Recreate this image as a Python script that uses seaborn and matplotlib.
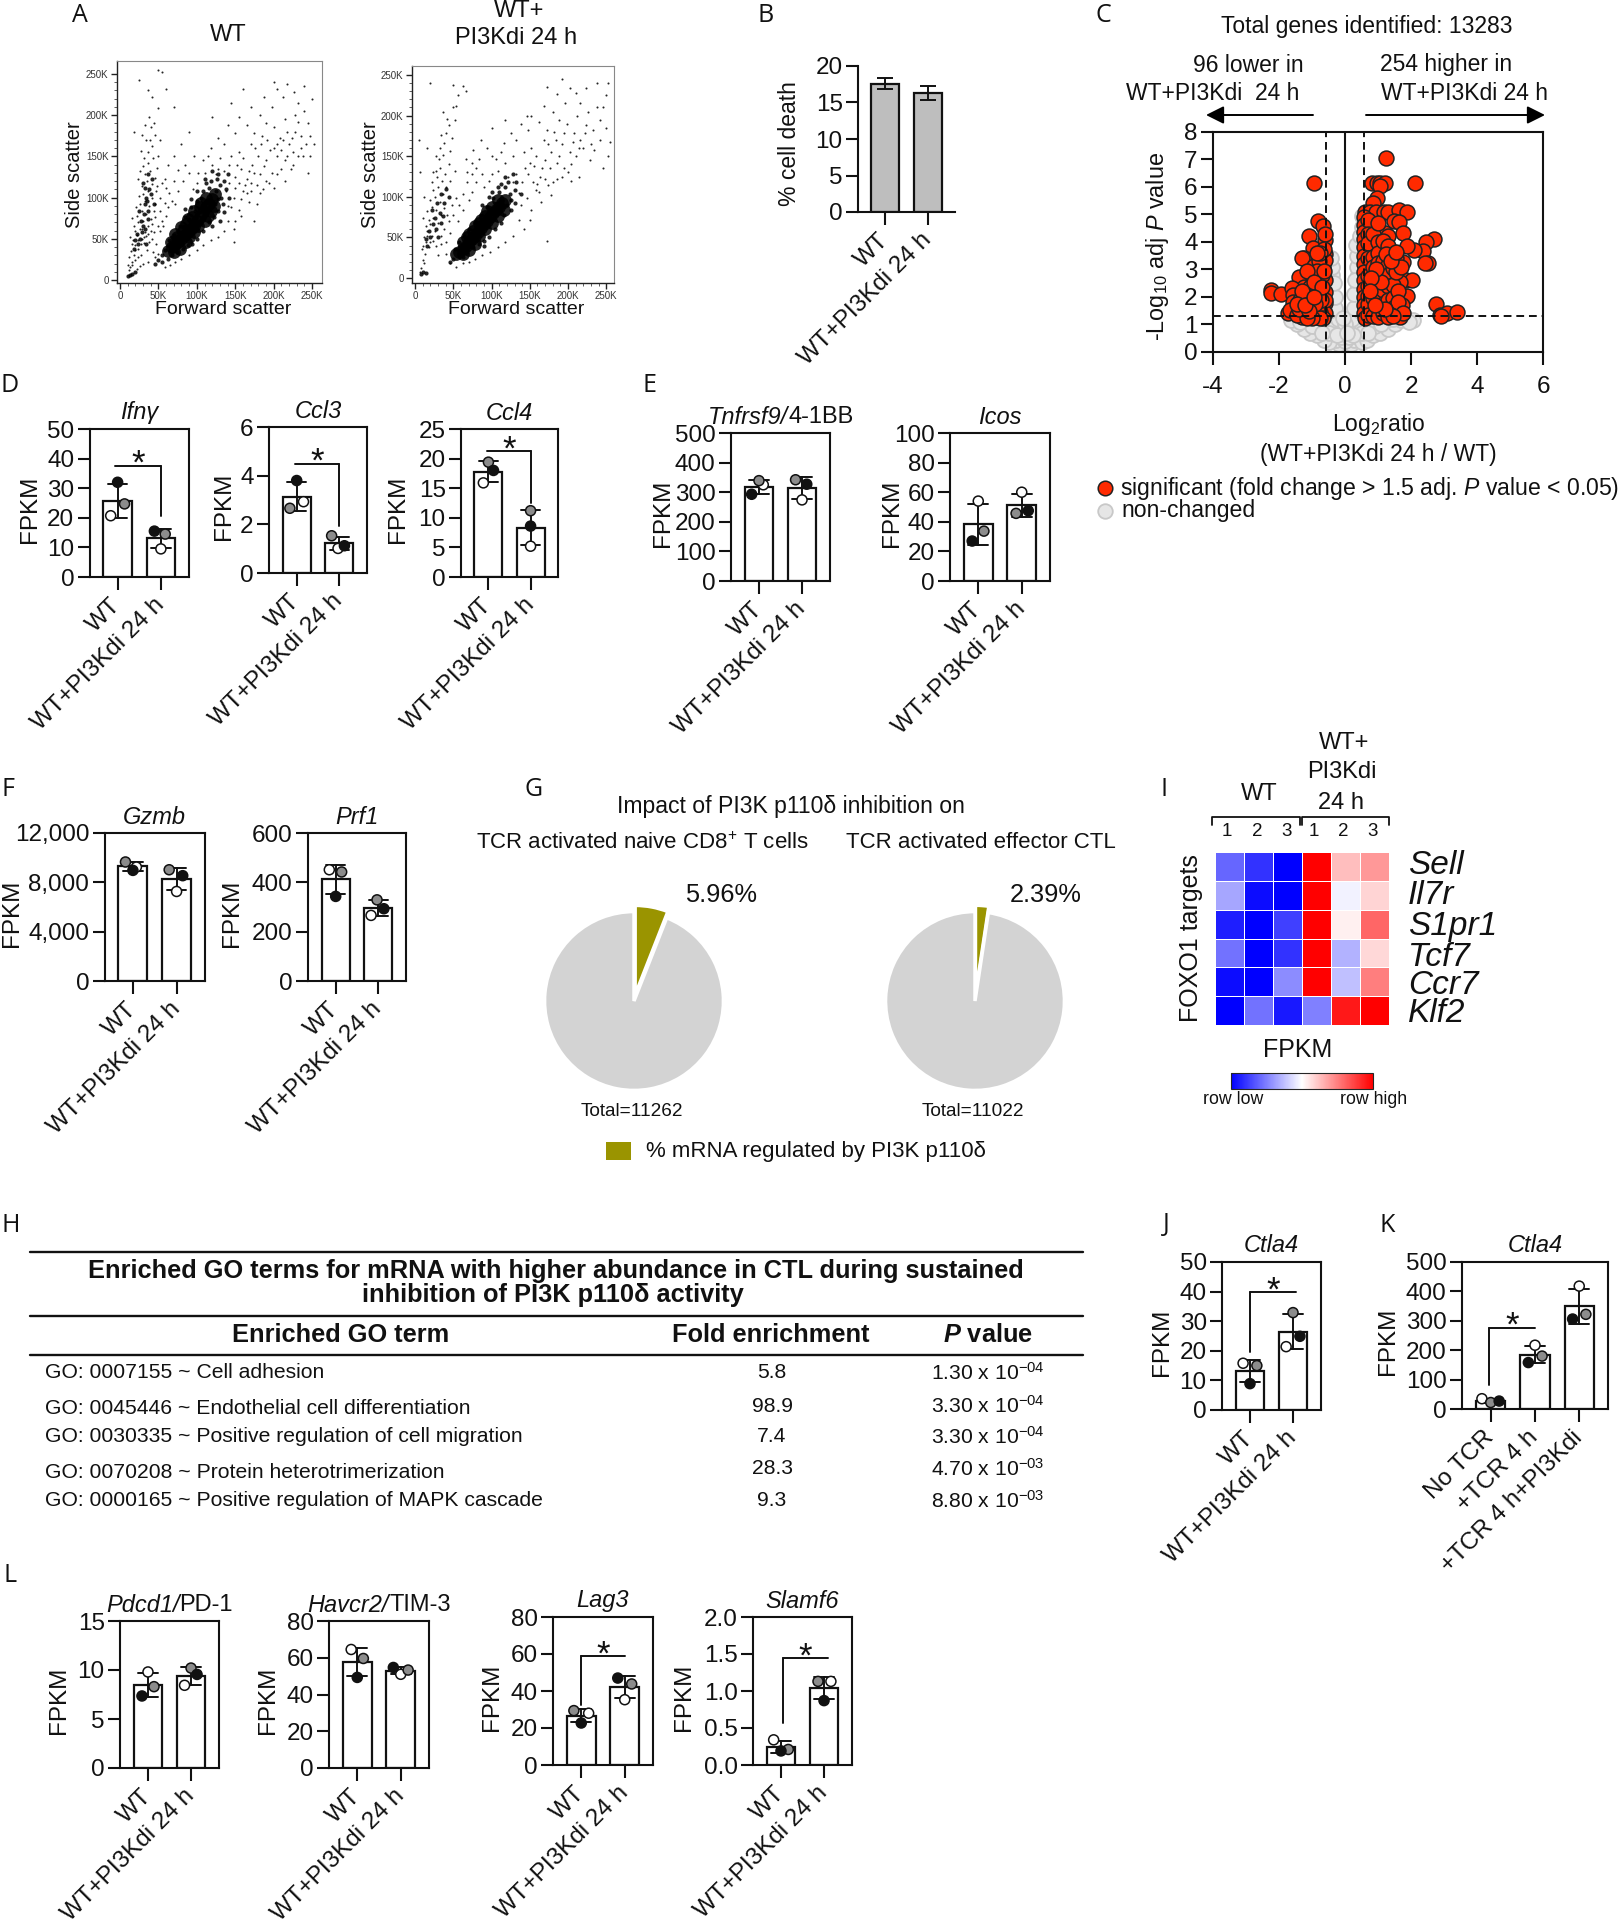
import pandas as pd
import matplotlib
matplotlib.use('Agg')
import matplotlib.pyplot as plt
import seaborn as sns
from matplotlib.cm import ScalarMappable
from matplotlib.colors import Normalize

#--------------------------------------------------------------
# Values. Replicates are [white, grey, black]
#--------------------------------------------------------------
wt_groups = ['WT', 'WT+PI3Kdi 24 h']
tcr_groups = ['No TCR', '+TCR 4 h', '+TCR 4 h+PI3Kdi']

ifng = [[20.7, 24.7, 32.0], [9.5, 14.5, 15.5]]
ccl3 = [[2.93, 2.66, 3.80], [1.01, 1.53, 1.12]]
ccl4 = [[15.9, 19.4, 18.0], [5.2, 11.2, 8.6]]
tnfrsf9 = [[325, 339, 293], [274, 342, 327]]
icos = [[54, 33.7, 27], [60, 45.7, 47.5]]
gzmb = [[9240, 9650, 8970], [7260, 9020, 8540]]
prf1 = [[451, 442, 343], [266, 329, 293]]
ctla4_j = [[15.8, 15, 8.9], [21.4, 32.9, 24.9]]
ctla4_k = [[35, 22, 27], [217, 180, 158], [418, 322, 306]]
pdcd1 = [[9.8, 8.3, 7.35], [8.44, 10.2, 9.55]]
havcr2 = [[64.5, 59.6, 49.3], [51, 53.3, 54.7]]
lag3 = [[28, 29.4, 22.7], [35.3, 43.8, 47]]
slamf6 = [[0.34, 0.21, 0.19], [1.13, 1.13, 0.87]]

cell_death_mean = [17.6, 16.3]
cell_death_sd = [0.7, 1.0]

pie_shares = [5.96, 2.39]

heat_genes = ['Sell', 'Il7r', 'S1pr1', 'Tcf7', 'Ccr7', 'Klf2']
heat_values = [
    [-.60, -.80, -1.0, 1.0, .25, .40],
    [-.35, -.95, -1.0, 1.0, -.05, .17],
    [-.88, -1.0, -.75, 1.0, .06, .60],
    [-.55, -1.0, -.80, 1.0, -.30, .15],
    [-.95, -1.0, -.45, 1.0, -.25, .50],
    [-1.0, -.55, -.90, -.50, .90, 1.0],
]

go_terms = ['GO: 0007155 ~ Cell adhesion',
            'GO: 0045446 ~ Endothelial cell differentiation',
            'GO: 0030335 ~ Positive regulation of cell migration',
            'GO: 0070208 ~ Protein heterotrimerization',
            'GO: 0000165 ~ Positive regulation of MAPK cascade']
go_fold = ['5.8', '98.9', '7.4', '28.3', '9.3']
go_p = ['1.30 x 10$^{-04}$', '3.30 x 10$^{-04}$', '3.30 x 10$^{-04}$',
        '4.70 x 10$^{-03}$', '8.80 x 10$^{-03}$']

# volcano, (log2 ratio, -log10 adj P)
volcano_red = [
    (-.93, 6.13), (-.83, 4.78), (-.68, 4.58), (-1.09, 4.23), (-.61, 4.07), (-.62, 4.3), (-.98, 3.77),
    (-.61, 3.55), (-1.23, 3.43), (-1.31, 3.4), (-.66, 3.1), (-.93, 3.13), (-.61, 3.35), (-.8, 3.3),
    (-1.38, 2.72), (-1.01, 2.8), (-.78, 2.52), (-.61, 2.62), (-1.24, 2.38), (-2.24, 2.25), (-2.24, 2.13),
    (-1.94, 2.1), (-1.62, 2.32), (-1.57, 2.07), (-1.59, 1.83), (-1.72, 1.41), (-.61, 2.19), (-.71, 1.65),
    (-1.06, 1.77), (-1.36, 1.9), (-1.26, 1.6), (-.96, 1.55), (-.81, 1.77), (-.61, 1.77), (-.61, 1.41),
    (-1.06, 1.28), (-1.31, 1.28), (-.76, 1.47), (-1.51, 1.6), (-1.66, 1.53), (-.91, 2.13), (-1.06, 2.38),
    (-.76, 2.13), (-.61, 1.9), (-1.21, 1.41), (-.91, 1.28), (-1.11, 1.92), (-.86, 1.53), (-1.46, 1.35),
    (-.66, 1.25), (-.76, 1.25), (-1.01, 1.25), (-1.16, 1.25), (-.7, 2.8), (-.85, 2.95), (-.63, 2.95),
    (-1.15, 2.95), (-1.25, 2.1), (-.95, 2.55), (-1.4, 1.55), (-.65, 3.75), (-.75, 3.6),
    (1.23, 7.05), (.83, 6.13), (.96, 6.13), (1.06, 6.13), (1.21, 6.13), (2.12, 6.13), (1.06, 6.03),
    (.96, 5.6), (.86, 5.4), (.6, 5.1), (.76, 5.1), (.93, 5.1), (1.18, 5.1), (1.31, 5.1), (1.64, 5.16),
    (1.87, 5.1), (1.49, 4.78), (1.65, 4.74), (.66, 4.56), (.91, 4.56), (1.77, 4.34), (1.21, 4.34),
    (1.31, 4.2), (.66, 4.07), (2.7, 4.11), (2.45, 3.99), (2.37, 3.68), (2.09, 3.71), (1.87, 3.85),
    (2.53, 3.22), (2.42, 3.22), (1.77, 3.28), (1.26, 3.47), (1.36, 3.71), (1.11, 3.65), (.86, 3.83),
    (.66, 3.65), (.71, 3.05), (1.36, 2.68), (.83, 2.68), (1.84, 2.62), (2.02, 2.62), (1.67, 2.55),
    (1.41, 2.25), (1.89, 2.04), (1.06, 1.89), (1.72, 1.71), (.91, 1.47), (1.67, 1.28), (2.75, 1.73),
    (2.88, 1.35), (3.08, 1.43), (3.38, 1.47), (2.9, 1.3), (.58, 4.9), (.58, 4.6), (.58, 4.35), (.58, 4.1),
    (.58, 3.8), (.58, 3.5), (.58, 3.2), (.58, 2.9), (.58, 2.6), (.58, 2.3), (.58, 2.0), (.58, 1.7),
    (.58, 1.4), (.62, 1.25), (.7, 4.8), (.7, 4.3), (.7, 3.95), (.7, 3.4), (.7, 2.75), (.7, 2.4),
    (.7, 2.05), (.7, 1.75), (.7, 1.35), (.85, 4.3), (.85, 3.45), (.85, 3.1), (.85, 2.3), (.85, 1.95),
    (.85, 1.3), (1.0, 4.7), (1.0, 4.0), (1.0, 3.6), (1.0, 3.25), (1.0, 2.85), (1.0, 2.45), (1.0, 2.1),
    (1.0, 1.6), (1.0, 1.28), (1.15, 4.05), (1.15, 3.3), (1.15, 2.95), (1.15, 2.25), (1.15, 1.75),
    (1.15, 1.4), (1.3, 3.85), (1.3, 3.15), (1.3, 2.8), (1.3, 2.4), (1.3, 1.9), (1.3, 1.55), (1.3, 1.28),
    (1.45, 3.55), (1.45, 3.05), (1.45, 2.45), (1.45, 1.95), (1.45, 1.6), (1.55, 3.4), (1.55, 2.9),
    (1.6, 2.2), (1.6, 1.8), (1.7, 3.1), (1.75, 1.4), (1.45, 1.3), (1.2, 1.55), (1.1, 2.55), (.95, 3.0),
    (.8, 2.7), (.75, 2.2), (.9, 1.7), (1.25, 3.55), (1.4, 3.3), (1.55, 3.65), (-.72, 1.9), (-.9, 1.75),
    (-1.1, 1.5), (-1.3, 2.2), (-1.45, 1.75), (-.7, 2.35), (-.85, 3.6), (-1.2, 1.7), (-.95, 2.0),
]
volcano_grey = [
    (0, 0.05), (-.08, .15), (.08, .15), (-.18, .3), (.18, .3), (-.28, .42), (.28, .42), (0, .4), (-.12, .55),
    (.12, .55), (-.4, .55), (.4, .55), (-.5, .35), (.52, .35), (-.65, .45), (.68, .45), (-.85, .6), (.85, .6),
    (-1.05, .7), (1.05, .7), (-1.25, .85), (1.3, .85), (-1.45, 1.0), (1.5, 1.0), (-1.65, 1.15), (1.7, 1.15),
    (-.9, .95), (.9, .95), (-.6, .85), (.6, .85), (-1.2, 1.15), (1.25, 1.15), (-.35, .85), (.35, .85), (-.15, .85),
    (.15, .85), (-.45, 1.1), (.45, 1.1), (-.2, 1.2), (.2, 1.2), (0, 1.0), (-.75, 1.15), (.75, 1.15), (2.07, 1.16),
    (1.95, 1.1), (-.48, 1.5), (.45, 1.5), (-.47, 1.8), (.42, 1.8), (-.45, 2.1), (.42, 2.1), (-.42, 2.4), (.4, 2.45),
    (-.4, 2.8), (.38, 2.8), (-.4, 3.1), (.36, 3.1), (-.42, 3.4), (.36, 3.5), (.34, 3.9), (.44, 4.2), (.5, 4.55),
    (.52, 4.95), (-.3, 1.6), (.28, 1.6), (-.3, 2.0), (.28, 2.1), (-.32, 2.5), (.3, 2.6), (-1.0, .95), (1.1, 1.0),
    (-.5, .7), (.5, .7), (-.7, .7), (.7, .7), (-1.35, 1.1), (1.45, 1.2), (-.25, .6), (.25, .6), (.05, .7), (-.05, 1.25),
]

# flow cytometry dots, (forward scatter K, side scatter K)
wt_flow_core = [
    (62, 35), (68, 40), (72, 44), (76, 46), (80, 50), (84, 55), (88, 58), (92, 62), (96, 66), (100, 72), (104, 76),
    (108, 82), (112, 88), (116, 92), (120, 98), (74, 52), (82, 60), (90, 52), (96, 58), (102, 66), (110, 72),
    (86, 68), (94, 76), (104, 88), (112, 100), (118, 84), (70, 34), (78, 38), (86, 46), (66, 46), (72, 56), (80, 64),
    (88, 74), (96, 84), (106, 94), (114, 78), (122, 90), (124, 104),
]
wt_flow_mid = [
    (55, 30), (58, 36), (64, 48), (70, 55), (78, 66), (85, 76), (92, 88), (100, 96), (108, 108), (116, 112),
    (125, 108), (130, 115), (124, 92), (128, 98), (122, 76), (116, 70), (108, 60), (100, 50), (94, 44), (88, 42),
    (82, 38), (74, 34), (68, 30), (62, 26), (132, 100), (135, 120), (126, 122), (118, 120), (112, 118), (105, 100),
    (98, 84), (90, 74), (84, 66), (76, 58), (134, 92), (128, 84), (120, 66), (10, 5), (13, 6), (16, 8), (19, 10),
    (28, 58), (30, 66), (32, 92), (36, 84), (26, 50), (34, 100), (38, 110), (24, 44), (22, 56), (30, 118),
    (33, 62), (27, 72), (36, 74), (25, 84), (31, 80), (35, 96), (40, 104), (44, 92), (20, 48), (18, 38), (34, 44),
    (42, 122), (37, 128), (33, 112), (128, 128), (140, 128), (138, 110), (142, 100), (120, 132), (110, 122), (100, 108),
    (92, 98), (84, 86), (136, 82), (130, 72), (50, 24), (46, 20), (54, 22),
]
wt_flow_sparse = [
    (12, 12), (15, 22), (18, 30), (14, 35), (20, 42), (24, 38), (17, 48), (22, 55), (28, 50), (19, 60), (26, 62),
    (32, 58), (24, 70), (30, 72), (36, 66), (22, 78), (28, 84), (34, 80), (40, 74), (26, 92), (32, 96), (38, 90),
    (44, 84), (30, 104), (36, 108), (42, 100), (28, 114), (35, 120), (41, 116), (47, 108), (33, 128), (39, 132),
    (45, 124), (37, 142), (43, 148), (30, 138), (48, 136), (36, 155), (42, 162), (50, 150), (34, 170), (46, 176),
    (40, 186), (28, 176), (52, 170), (38, 198), (18, 66), (21, 88), (16, 75), (25, 102), (29, 62), (34, 54), (38, 46),
    (44, 58), (49, 66), (54, 72), (46, 92), (52, 100), (40, 60), (31, 45), (27, 30), (35, 36), (43, 34), (12, 28),
    (10, 18), (22, 13), (26, 17), (30, 20), (36, 22), (45, 28), (50, 32), (125, 128), (135, 132), (142, 118),
    (150, 125), (158, 135), (165, 122), (172, 140), (180, 150), (188, 138), (195, 158), (205, 150), (212, 170),
    (220, 165), (228, 180), (236, 175), (205, 128), (190, 120), (178, 115), (160, 108), (148, 100), (140, 90),
    (155, 85), (168, 95), (175, 72), (182, 105), (198, 130), (215, 145), (225, 155), (235, 160), (245, 190),
    (240, 205), (228, 200), (215, 195), (200, 185), (185, 175), (170, 165), (155, 155), (145, 150), (130, 148),
    (120, 140), (110, 130), (100, 118), (95, 110), (115, 150), (135, 165), (150, 178), (165, 188), (182, 200),
    (198, 210), (212, 222), (226, 228), (240, 235), (250, 220), (252, 165), (248, 150), (200, 240), (160, 232),
    (145, 215), (120, 198), (70, 210), (60, 232), (55, 252), (25, 242), (50, 255), (90, 180), (80, 165), (70, 150),
    (62, 140), (58, 122), (64, 106), (72, 92), (60, 78), (52, 60), (148, 46), (215, 120), (222, 135), (200, 160),
    (190, 145), (175, 130), (165, 105), (150, 112), (142, 140), (128, 135), (138, 108), (145, 88), (150, 72),
    (158, 98), (170, 118), (182, 128), (208, 172), (218, 180), (232, 192), (238, 150), (225, 140), (245, 130),
    (13, 16), (16, 18), (20, 24), (23, 28), (19, 36), (15, 44), (13, 52), (23, 48), (27, 44), (31, 52), (36, 56),
    (42, 50), (47, 44), (41, 68), (46, 76), (52, 84), (56, 66), (58, 94), (48, 114), (54, 118), (60, 112), (24, 122),
    (26, 132), (31, 148), (27, 156), (39, 170), (44, 190), (33, 188), (50, 208), (42, 222), (36, 230), (18, 180),
    (152, 140), (160, 148), (168, 132), (176, 160), (184, 165), (192, 170), (204, 165), (210, 158), (218, 150),
    (224, 172), (232, 150), (242, 165), (248, 175), (155, 118), (163, 115), (171, 108), (178, 92), (186, 110),
    (194, 118), (200, 112), (210, 135), (158, 78), (148, 62), (140, 72), (135, 60), (128, 52), (118, 48), (108, 42),
    (100, 36), (90, 30), (80, 26), (72, 22), (65, 18), (58, 16), (102, 130), (108, 146), (118, 160), (128, 172),
    (140, 188), (155, 198), (170, 210), (188, 222), (205, 232), (218, 238), (232, 215), (190, 190), (175, 178),
    (90, 130), (82, 120), (76, 108), (70, 120), (84, 140), (96, 150), (75, 134), (68, 96), (62, 88),
]
pi3k_flow_core = [
    (54, 30), (58, 32), (62, 36), (66, 40), (70, 44), (74, 48), (78, 52), (82, 57), (86, 62), (90, 66), (94, 70),
    (98, 75), (102, 80), (106, 84), (110, 88), (114, 92), (68, 50), (76, 58), (84, 68), (92, 76), (100, 88),
    (108, 96), (84, 52), (92, 60), (100, 68), (108, 76), (62, 30), (70, 34), (78, 42), (62, 44), (70, 54), (78, 64),
    (86, 72), (94, 82), (116, 84), (118, 96),
]
pi3k_flow_mid = [
    (50, 24), (52, 36), (58, 44), (64, 52), (70, 60), (78, 68), (86, 78), (94, 88), (102, 98), (110, 106), (118, 112),
    (124, 104), (120, 90), (126, 96), (116, 78), (112, 68), (104, 60), (96, 50), (90, 46), (84, 42), (76, 38),
    (68, 32), (62, 26), (130, 108), (122, 118), (112, 116), (100, 106), (130, 92), (8, 5), (10, 7), (14, 6),
    (20, 50), (28, 60), (32, 80), (38, 92), (24, 66), (34, 104), (16, 40), (30, 50), (26, 74), (34, 68), (22, 84),
    (29, 92), (36, 76), (40, 110), (44, 100), (18, 58), (14, 48), (132, 118), (138, 104), (126, 84), (118, 124),
    (108, 112), (96, 100), (88, 90), (128, 128), (90, 40), (46, 20),
]
pi3k_flow_sparse = [
    (8, 12), (10, 22), (13, 30), (9, 36), (14, 44), (18, 38), (12, 50), (16, 58), (22, 52), (14, 64), (20, 66),
    (26, 58), (18, 72), (24, 74), (30, 68), (16, 82), (22, 88), (28, 84), (34, 78), (20, 96), (26, 100), (32, 94),
    (38, 86), (24, 108), (30, 112), (36, 104), (22, 118), (29, 124), (35, 120), (41, 112), (27, 132), (33, 136),
    (39, 128), (31, 146), (37, 152), (44, 140), (32, 160), (38, 166), (46, 156), (40, 178), (48, 172), (45, 188),
    (52, 195), (50, 210), (56, 225), (62, 236), (66, 230), (50, 238), (20, 240), (5, 170), (6, 130), (38, 60),
    (44, 70), (50, 78), (34, 42), (40, 30), (46, 18), (30, 28), (58, 90), (62, 104), (68, 118), (74, 128), (80, 136),
    (70, 96), (122, 125), (132, 128), (140, 118), (148, 128), (155, 138), (163, 125), (170, 145), (178, 155),
    (186, 142), (192, 165), (202, 155), (208, 178), (216, 170), (224, 188), (232, 182), (200, 130), (186, 122),
    (174, 115), (158, 108), (146, 98), (138, 90), (152, 84), (165, 94), (172, 46), (178, 102), (195, 135), (210, 150),
    (220, 160), (230, 165), (242, 195), (238, 210), (226, 205), (212, 200), (198, 190), (182, 180), (168, 170),
    (152, 160), (142, 155), (128, 150), (118, 142), (108, 132), (96, 120), (90, 112), (112, 155), (132, 170), (148, 182),
    (162, 192), (180, 205), (196, 215), (210, 228), (224, 234), (238, 240), (250, 225), (255, 168), (252, 150),
    (192, 245), (172, 235), (146, 200), (118, 195), (100, 185), (86, 170), (76, 158), (66, 146), (100, 150), (128, 118),
    (136, 105), (144, 136), (160, 116), (176, 135), (188, 150), (204, 140), (214, 125), (228, 145), (245, 135),
    (7, 8), (12, 18), (11, 40), (15, 52), (19, 44), (24, 46), (28, 40), (34, 52), (40, 44), (46, 56), (42, 78),
    (48, 90), (54, 98), (46, 120), (52, 132), (24, 130), (28, 150), (34, 176), (42, 196), (36, 204), (54, 212),
    (15, 160), (12, 100), (10, 74), (150, 142), (158, 150), (166, 135), (174, 165), (184, 170), (194, 178), (206, 168),
    (214, 160), (222, 178), (234, 158), (242, 170), (250, 185), (154, 118), (162, 106), (170, 122), (180, 118),
    (192, 125), (204, 120), (150, 72), (142, 60), (136, 72), (128, 52), (118, 44), (108, 38), (98, 32), (88, 28),
    (78, 24), (70, 20), (62, 18), (54, 14), (100, 128), (106, 146), (116, 166), (126, 178), (138, 190), (152, 200),
    (168, 212), (186, 226), (202, 234), (216, 215), (188, 195), (172, 182), (88, 128), (80, 118), (74, 106),
    (68, 130), (84, 146), (94, 160), (74, 142), (62, 84), (56, 70), (246, 210), (252, 240),
]

#--------------------------------------------------------------
# Figure setup, everything placed in reference pixels
#--------------------------------------------------------------
W, H = 1619, 1923
TICK = 17.5
sns.set_theme(style='white')
plt.rcParams['font.family'] = ['Liberation Sans', 'DejaVu Sans']
plt.rcParams['mathtext.fontset'] = 'custom'
plt.rcParams['mathtext.rm'] = 'Liberation Sans'
plt.rcParams['mathtext.it'] = 'Liberation Sans:italic'
plt.rcParams['mathtext.bf'] = 'Liberation Sans:bold'
plt.rcParams['mathtext.bfit'] = 'Liberation Sans:italic:bold'
plt.rcParams['mathtext.default'] = 'regular'
plt.rcParams['axes.unicode_minus'] = False

fig = plt.figure(figsize=(W / 100, H / 100), dpi=100)

page = fig.add_axes([0, 0, 1, 1], zorder=5)
page.set_xlim(0, W)
page.set_ylim(H, 0)
page.axis('off')
page.patch.set_alpha(0)


def px_axes(x0, y0, x1, y1):
    return fig.add_axes([x0 / W, 1 - y1 / H, (x1 - x0) / W, (y1 - y0) / H])


def txt(x, y, s, size=15, ha='center', **kw):
    return page.text(x, y, s, fontsize=size, ha=ha, va='center', color='#111111', **kw)


def style_axes(ax, box=True):
    for side in ['left', 'bottom', 'top', 'right']:
        ax.spines[side].set_visible(box or side in ['left', 'bottom'])
        ax.spines[side].set_linewidth(1.5)
        ax.spines[side].set_color('#111111')
    ax.tick_params(axis='both', which='major', bottom=True, left=True, labelsize=TICK,
                   length=9, width=1.5, color='#111111', labelcolor='#111111', pad=2)


def two_part_title(rect, italic, plain):
    # italic gene name followed by the plain protein name, centred over the axes
    cx = (rect[0] + rect[2]) / 2
    y = rect[1] - 16
    if not plain:
        txt(cx, y, italic, 17, style='italic')
        return
    rend = fig.canvas.get_renderer()
    a = txt(0, y, italic, 17, ha='left', style='italic')
    b = txt(0, y, plain, 17, ha='left')
    wa = a.get_window_extent(rend).width
    wb = b.get_window_extent(rend).width
    a.set_x(cx - (wa + wb) / 2)
    b.set_x(cx - (wa + wb) / 2 + wa)


def bar_panel(rect, title, reps, offs, groups, ylim, yticks, ylab_x, bracket=None, ticklabels=None):
    ax = px_axes(*rect)
    rows = [(groups[i], v) for i, grp in enumerate(reps) for v in grp]
    df = pd.DataFrame(rows, columns=['group', 'fpkm'])
    sns.barplot(data=df, x='group', y='fpkm', order=groups, errorbar='sd', capsize=0.45, width=0.66,
                color='white', edgecolor='#111111', linewidth=1.6, saturation=1,
                err_kws={'color': '#111111', 'linewidth': 1.4}, ax=ax)
    dots = pd.DataFrame([(i + offs[i][j], v, j) for i, grp in enumerate(reps) for j, v in enumerate(grp)],
                        columns=['x', 'y', 'rep'])
    sns.scatterplot(data=dots, x='x', y='y', hue='rep', palette=['white', '#8c8c8c', '#111111'], s=52,
                    edgecolor='#111111', linewidth=1.1, legend=False, zorder=4, clip_on=False, ax=ax)
    ax.set_xlim(-0.65, len(groups) - 0.35)
    ax.set_ylim(*ylim)
    ax.set_yticks(yticks)
    if ticklabels:
        ax.set_yticklabels(ticklabels)
    ax.set_xticks(range(len(groups)))
    ax.set_xticklabels(groups, rotation=45, ha='right', va='center', rotation_mode='anchor')
    ax.set_xlabel('')
    ax.set_ylabel('FPKM', fontsize=TICK, color='#111111', va='center')
    ax.yaxis.set_label_coords((ylab_x - rect[0]) / (rect[2] - rect[0]), 0.46)
    two_part_title(rect, *title)
    style_axes(ax)
    ax.tick_params(axis='x', pad=9)
    if bracket:
        y, leg_x, leg_end, x0, x1 = bracket
        ax.plot([x0, x1], [y, y], color='#111111', lw=1.4, zorder=3)
        ax.plot([leg_x, leg_x], [y, leg_end], color='#111111', lw=1.4, zorder=3)
        ax.annotate('*', ((x0 + x1) / 2, y), xytext=(0, -6), textcoords='offset points', ha='center', va='baseline',
                    fontsize=25, color='#111111')
    return ax


#--------------------------------------------------------------
# A. Flow plots
#--------------------------------------------------------------
def flow_panel(rect, xlim, ylim, core, mid, sparse, ylab_x, xlab_x):
    ax = px_axes(*rect)
    for pts, size in [(sparse, 2.2), (mid, 9), (core, 85)]:
        d = pd.DataFrame(pts, columns=['fsc', 'ssc'])
        sns.scatterplot(data=d, x='fsc', y='ssc', s=size, color='black', linewidth=0, alpha=0.85, ax=ax)
    ax.set_xlim(*xlim)
    ax.set_ylim(*ylim)
    ticks = [0, 50, 100, 150, 200, 250]
    names = ['0', '50K', '100K', '150K', '200K', '250K']
    ax.set_xticks(ticks)
    ax.set_xticklabels(names)
    ax.set_yticks(ticks)
    ax.set_yticklabels(names)
    ax.set_xticks([t for t in range(0, 260, 10) if t not in ticks], minor=True)
    ax.set_yticks([t for t in range(0, 260, 10) if t not in ticks], minor=True)
    ax.tick_params(axis='both', which='major', bottom=True, left=True, labelsize=7, length=4, width=1, pad=2,
                   color='#222222', labelcolor='#333333')
    ax.tick_params(axis='both', which='minor', bottom=True, left=True, length=2, width=0.6, color='#444444')
    for side in ax.spines:
        ax.spines[side].set_linewidth(1.0 if side in ['left', 'bottom'] else 0.8)
        ax.spines[side].set_color('#222222' if side in ['left', 'bottom'] else '#888888')
    ax.set_xlabel('')
    ax.set_ylabel('')
    txt(ylab_x, 175, 'Side scatter', 14.5, rotation=90)
    txt(xlab_x, 310, 'Forward scatter', 14)


flow_panel((117, 61, 322, 283), (-4, 263), (-3.5, 265.5), wt_flow_core, wt_flow_mid, wt_flow_sparse, 74, 223)
flow_panel((412, 66, 614, 283), (-4, 260), (-6, 261), pi3k_flow_core, pi3k_flow_mid, pi3k_flow_sparse, 370, 516)
txt(228, 35, 'WT', 17)
txt(519, 11, 'WT+', 17)
txt(516, 38, 'PI3Kdi 24 h', 17)

#--------------------------------------------------------------
# B. Cell death
#--------------------------------------------------------------
ax_b = px_axes(858, 66, 955, 212)
sns.barplot(x=wt_groups, y=cell_death_mean, color='#BEBEBE', edgecolor='#111111', linewidth=1.6, width=0.66,
            saturation=1, ax=ax_b)
ax_b.errorbar([0, 1], cell_death_mean, yerr=cell_death_sd, fmt='none', ecolor='#111111', elinewidth=1.4,
              capsize=6, capthick=1.4)
ax_b.set_xlim(-0.63, 1.63)
ax_b.set_ylim(0, 20)
ax_b.set_yticks([0, 5, 10, 15, 20])
ax_b.set_xticks([0, 1])
ax_b.set_xticklabels(wt_groups, rotation=45, ha='right', va='center', rotation_mode='anchor')
ax_b.set_ylabel('% cell death', fontsize=16.5, color='#111111', va='center')
ax_b.yaxis.set_label_coords((790 - 858) / 97, 0.47)
style_axes(ax_b, box=False)
ax_b.tick_params(axis='x', pad=9)

#--------------------------------------------------------------
# C. Volcano
#--------------------------------------------------------------
ax_c = px_axes(1213, 132, 1543, 352)
grey_df = pd.DataFrame(volcano_grey, columns=['log2fc', 'p'])
red_df = pd.DataFrame(volcano_red, columns=['log2fc', 'p'])
sns.scatterplot(data=grey_df, x='log2fc', y='p', s=115, color='#E6E6E6', edgecolor='#C8C8C8', linewidth=1.3, ax=ax_c,
                zorder=2)
sns.scatterplot(data=red_df, x='log2fc', y='p', s=115, color='#FF2A00', edgecolor='#222222', linewidth=1.1, ax=ax_c,
                zorder=3)
ax_c.axvline(0, color='#111111', lw=1.5, zorder=4)
ax_c.axvline(-0.585, color='#111111', lw=1.4, ls=(0, (4, 2.5)), zorder=4)
ax_c.axvline(0.585, color='#111111', lw=1.4, ls=(0, (4, 2.5)), zorder=4)
ax_c.axhline(1.3, color='#111111', lw=1.4, ls=(0, (4, 2.5)), zorder=4)
ax_c.set_xlim(-4, 6)
ax_c.set_ylim(0, 8)
ax_c.set_xticks([-4, -2, 0, 2, 4, 6])
ax_c.set_yticks(range(9))
ax_c.set_xlabel('')
ax_c.set_ylabel('-Log$_{10}$ adj $\\mathit{P}$ value', fontsize=16.8, color='#111111', va='center')
ax_c.yaxis.set_label_coords((1157 - 1213) / 330, 0.48)
style_axes(ax_c)
ax_c.tick_params(axis='x', pad=8)

txt(1367, 26, 'Total genes identified: 13283', 16.5)
txt(1248, 65, '96 lower in', 16.5)
txt(1213, 93, 'WT+PI3Kdi  24 h', 16.5)
txt(1446, 65, '254 higher in', 16.5)
txt(1464, 93, 'WT+PI3Kdi 24 h', 16.5)
page.annotate('', xy=(1206, 115), xytext=(1313, 115),
              arrowprops=dict(arrowstyle='-|>,head_length=0.9,head_width=0.45', color='black', lw=1.4, shrinkA=0, shrinkB=0))
page.annotate('', xy=(1545, 115), xytext=(1366, 115),
              arrowprops=dict(arrowstyle='-|>,head_length=0.9,head_width=0.45', color='black', lw=1.4, shrinkA=0, shrinkB=0))
txt(1379, 424, 'Log$_{2}$ratio', 16.5)
txt(1378, 454, '(WT+PI3Kdi 24 h / WT)', 16.5)
page.scatter([1105], [488], s=110, color='#FF2A00', edgecolor='#222222', linewidth=1.1)
page.scatter([1105], [511], s=110, color='#E6E6E6', edgecolor='#C8C8C8', linewidth=1.3)
txt(1120, 488, 'significant (fold change > 1.5 adj. $\\mathit{P}$ value < 0.05)', 16.6, ha='left')
txt(1121, 511, 'non-changed', 16.6, ha='left')

#--------------------------------------------------------------
# D, E, F, J, K, L. Bar panels
#--------------------------------------------------------------
s = 0.16
bar_panel((89.5, 429, 189, 577), ('Ifnγ', ''), ifng, [[-s, s, 0], [0, .1, -.15]], wt_groups,
          (0, 50), range(0, 51, 10), 30, (37.6, 1, 20.7, -.05, 1))
bar_panel((269, 427, 367, 573), ('Ccl3', ''), ccl3, [[s, -s, 0], [-.03, -.18, .12]], wt_groups,
          (0, 6), [0, 2, 4, 6], 224, (4.5, 1, 1.93, -.05, 1))
bar_panel((461, 429, 558, 577), ('Ccl4', ''), ccl4, [[-.12, 0, .12], [0, 0, 0]], wt_groups,
          (0, 25), range(0, 26, 5), 398, (21.3, 1, 12.5, -.03, 1))
bar_panel((731, 433, 830, 581), ('Tnfrsf9/', '4-1BB'), tnfrsf9, [[.1, 0, -.17], [0, -.15, .11]], wt_groups,
          (0, 500), range(0, 501, 100), 663)
bar_panel((950, 433, 1050, 581), ('Icos', ''), icos, [[0, .13, -.14], [0, -.13, .15]], wt_groups,
          (0, 100), range(0, 101, 20), 892)
bar_panel((104.5, 833, 205, 981), ('Gzmb', ''), gzmb, [[.08, -.17, 0], [0, -.17, .14]], wt_groups,
          (0, 12000), [0, 4000, 8000, 12000], 12, ticklabels=['0', '4,000', '8,000', '12,000'])
bar_panel((308, 833, 406, 981), ('Prf1', ''), prf1, [[-.15, .14, 0], [-.17, -.03, .13]], wt_groups,
          (0, 600), [0, 200, 400, 600], 232)
bar_panel((1222, 1262, 1321, 1410), ('Ctla4', ''), ctla4_j, [[-.16, .16, 0], [-.16, 0, .16]], wt_groups,
          (0, 50), range(0, 51, 10), 1162, (39.8, 0, 19.7, 0, 1.08))
bar_panel((1462, 1262, 1608, 1409), ('Ctla4', ''), ctla4_k, [[-.2, 0, .19], [0, .16, -.15], [0, .15, -.15]],
          tcr_groups, (0, 500), range(0, 501, 100), 1388, (277, -.05, 81, -.05, 1.0))
bar_panel((120, 1621, 219, 1768), ('Pdcd1/', 'PD-1'), pdcd1, [[0, .14, -.14], [-.15, 0, .14]], wt_groups,
          (0, 15), [0, 5, 10, 15], 59)
bar_panel((329, 1621, 429, 1768), ('Havcr2/', 'TIM-3'), havcr2, [[-.14, .14, 0], [0, .17, -.17]], wt_groups,
          (0, 80), range(0, 81, 20), 268)
bar_panel((553, 1617, 653, 1765), ('Lag3', ''), lag3, [[.17, -.17, 0], [0, .16, -.16]], wt_groups,
          (0, 80), range(0, 81, 20), 492, (58.7, 0, 32.6, 0, 1.0))
bar_panel((753, 1617, 852, 1765), ('Slamf6', ''), slamf6, [[-.17, .17, 0], [.16, -.14, 0]], wt_groups,
          (0, 2), [0, .5, 1, 1.5, 2], 684, (1.44, .04, .57, .04, 1.1), ticklabels=['0.0', '0.5', '1.0', '1.5', '2.0'])

#--------------------------------------------------------------
# G. Pies
#--------------------------------------------------------------
for cx, share, total, total_x, lab_x in [(634, pie_shares[0], 'Total=11262', 632, 721),
                                         (975, pie_shares[1], 'Total=11022', 973, 1046)]:
    ax_p = px_axes(cx - 110, 1001 - 110, cx + 110, 1001 + 110)
    ax_p.pie([share, 100 - share], colors=['#9A9400', '#D3D3D3'], startangle=90, counterclock=False,
             explode=[0.07, 0], radius=1, wedgeprops={'edgecolor': 'white', 'linewidth': 2.5})
    ax_p.set_xlim(-1.23, 1.23)
    ax_p.set_ylim(-1.23, 1.23)
    txt(total_x, 1112, total, 13.7)
    txt(lab_x, 895, '%.2f%%' % share, 18.3)

txt(791, 806, 'Impact of PI3K p110δ inhibition on', 16.6)
txt(642, 843, 'TCR activated naive CD8$^{+}$ T cells', 16)
txt(981, 843, 'TCR activated effector CTL', 16)
page.fill_between([606, 631], 1142, 1160, color='#9A9400', linewidth=0)
txt(646, 1152, '% mRNA regulated by PI3K p110δ', 16, ha='left')

#--------------------------------------------------------------
# I. Heatmap
#--------------------------------------------------------------
ax_i = px_axes(1215, 852, 1389, 1025)
sns.heatmap(pd.DataFrame(heat_values, index=heat_genes), cmap='bwr', vmin=-1, vmax=1, linewidths=0.7, linecolor='white',
            cbar=False, xticklabels=False, yticklabels=False, ax=ax_i)
for g, gy in zip(heat_genes, [865, 895, 926, 957, 986, 1013]):
    txt(1408, gy, g, 24, ha='left', style='italic')
for n, nx in zip(['1', '2', '3', '1', '2', '3'], [1227, 1257, 1287, 1314, 1343, 1373]):
    txt(nx, 831, n, 13.5)
page.plot([1212, 1212, 1300, 1300], [825, 817, 817, 825], color='#111111', lw=1.3)
page.plot([1302, 1302, 1389, 1389], [825, 817, 817, 825], color='#111111', lw=1.3)
txt(1259, 794, 'WT', 17)
txt(1344, 743, 'WT+', 17)
txt(1342, 772, 'PI3Kdi', 17)
txt(1341, 803, '24 h', 17)
txt(1191, 938, 'FOXO1 targets', 18, rotation=90)
txt(1298, 1050, 'FPKM', 18)
cax = px_axes(1231, 1073, 1373, 1089)
fig.colorbar(ScalarMappable(Normalize(-1, 1), 'bwr'), cax=cax, orientation='horizontal', ticks=[])
cax.spines['outline'].set_linewidth(0.8)
txt(1233, 1100, 'row low', 12.8)
txt(1374, 1100, 'row high', 12.8)

#--------------------------------------------------------------
# H. Table
#--------------------------------------------------------------
for ly in [1252, 1316, 1355]:
    page.plot([30, 1083], [ly, ly], color='#111111', lw=1.7)
txt(556, 1271, 'Enriched GO terms for mRNA with higher abundance in CTL during sustained', 18.3, fontweight='bold')
txt(553, 1295, 'inhibition of PI3K p110δ activity', 18.3, fontweight='bold')
txt(341, 1335, 'Enriched GO term', 18.3, fontweight='bold')
txt(771, 1335, 'Fold enrichment', 18.3, fontweight='bold')
txt(988, 1335, '$\\mathbfit{P}$ value', 18.3, fontweight='bold')
for term, term_y in zip(go_terms, [1373, 1408, 1437, 1472, 1501]):
    txt(45, term_y, term, 15.2, ha='left')
for fold, pv, val_y in zip(go_fold, go_p, [1373, 1406, 1437, 1469, 1501]):
    txt(772, val_y, fold, 15.2)
    txt(988, val_y, pv, 15.2)

#--------------------------------------------------------------
# Panel letters
#--------------------------------------------------------------
letters = {'A': (80, 15), 'B': (766, 15), 'C': (1103, 16), 'D': (10, 386), 'E': (649, 386), 'F': (8, 790), 'G': (534, 790),
           'H': (11, 1226), 'I': (1164, 789), 'J': (1166, 1225), 'K': (1387, 1225), 'L': (10, 1576)}
for name, (lx, ly) in letters.items():
    page.text(lx, ly, name, fontsize=18, ha='center', va='center', family='Open Sans', color='#111111')

fig.savefig('out.png', dpi=100)
